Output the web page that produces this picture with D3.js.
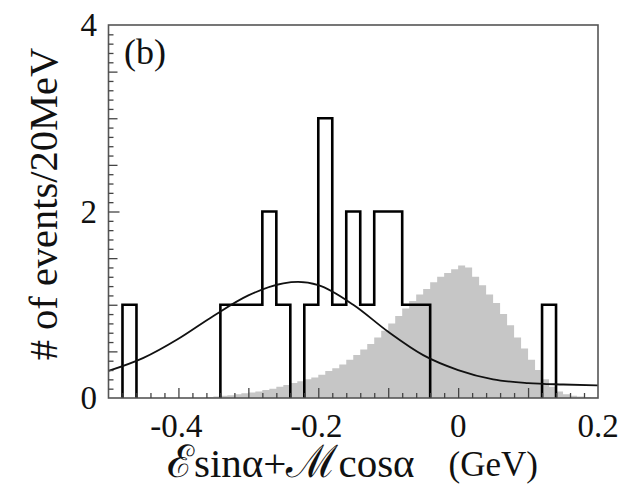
<!DOCTYPE html>
<html>
<head>
<meta charset="utf-8">
<script src="https://cdn.jsdelivr.net/npm/d3@7"></script>
<style>
  html, body { margin: 0; padding: 0; background: #fff; }
  svg { display: block; }
  text { font-family: "Liberation Serif", "Times New Roman", serif; fill: #111; }
</style>
</head>
<body>
<svg id="chart" width="634" height="487"></svg>
<script>
// Data histogram: 20 MeV bins from -0.50 to 0.20 GeV (event counts)
const dataBinStart = -0.5;
const dataBinWidth = 0.02;
const dataCounts = [0, 1, 0, 0, 0, 0, 0, 0, 1, 1, 1, 2, 1, 0, 1, 3, 1, 2, 1, 2, 2, 1, 1,
                    0, 0, 0, 0, 0, 0, 0, 0, 1, 0, 0, 0];

// Signal MC shape: 10 MeV bins from -0.50 to 0.20 GeV
const mcBinStart = -0.5;
const mcBinWidth = 0.01;
const mcValues = [0, 0, 0, 0, 0, 0, 0, 0, 0, 0, 0, 0, 0, 0, 0.01, 0.015,
                  0.025, 0.03, 0.04, 0.05, 0.06, 0.07, 0.085, 0.10, 0.12, 0.14,
                  0.16, 0.18, 0.20, 0.22, 0.25, 0.29, 0.32, 0.36, 0.41, 0.46,
                  0.52, 0.58, 0.65, 0.72, 0.80, 0.88, 0.96, 1.04, 1.11, 1.17,
                  1.24, 1.30, 1.34, 1.38, 1.42, 1.40, 1.30, 1.21, 1.11, 1.02,
                  0.90, 0.78, 0.65, 0.53, 0.41, 0.30, 0.20, 0.12, 0.07, 0.04,
                  0.025, 0.015, 0.01, 0.005];

// Fit curve sampled along x
const fitX = [-0.50, -0.45, -0.40, -0.35, -0.30, -0.25, -0.229, -0.20, -0.15, -0.10, -0.05, 0.00, 0.05, 0.10, 0.15, 0.20];
const fitY = [0.29, 0.43, 0.635, 0.88, 1.10, 1.23, 1.245, 1.21, 1.00, 0.71, 0.46, 0.30, 0.20, 0.16, 0.145, 0.136];

// Axis labels
const xTickLabels = [-0.4, -0.2, 0, 0.2];
const yTickLabels = [0, 2, 4];
const xTitleParts = [["ℰ", 45], ["sinα+", 41], ["ℳ", 45], ["cosα", 41]];
const xTitleUnit = "(GeV)";
const yTitle = "# of events/20MeV";
const panelLabel = "(b)";

const svg = d3.select("#chart");
const plotLeft = 108.5, plotRight = 598, plotTop = 25, plotBottom = 398;

const x = d3.scaleLinear().domain([-0.5, 0.2]).range([plotLeft, plotRight]);
const y = d3.scaleLinear().domain([0, 4]).range([plotBottom, plotTop]);

// MC filled histogram
const mcPts = [[x(mcBinStart), y(0)]];
mcValues.forEach((v, i) => {
  const x0 = mcBinStart + i * mcBinWidth, x1 = x0 + mcBinWidth;
  mcPts.push([x(x0), y(v)], [x(x1), y(v)]);
});
mcPts.push([x(mcBinStart + mcValues.length * mcBinWidth), y(0)]);
svg.append("path")
  .attr("d", d3.line()(mcPts) + "Z")
  .attr("fill", "#c6c6c6")
  .attr("stroke", "none");

// Data histogram outline, drawn as runs of non-empty bins
const runs = [];
let cur = null;
dataCounts.forEach((c, i) => {
  if (c > 0) {
    if (!cur) { cur = []; runs.push(cur); }
    cur.push(i);
  } else cur = null;
});
runs.forEach(run => {
  const pts = [];
  const first = dataBinStart + run[0] * dataBinWidth;
  pts.push([x(first), y(0)]);
  run.forEach(i => {
    const x0 = dataBinStart + i * dataBinWidth, x1 = x0 + dataBinWidth;
    pts.push([x(x0), y(dataCounts[i])], [x(x1), y(dataCounts[i])]);
  });
  const last = dataBinStart + (run[run.length - 1] + 1) * dataBinWidth;
  pts.push([x(last), y(0)]);
  svg.append("path")
    .attr("d", d3.line()(pts))
    .attr("fill", "none")
    .attr("stroke", "#000")
    .attr("stroke-width", 2.6)
    .attr("stroke-linejoin", "miter");
});

// Fit curve
svg.append("path")
  .attr("d", d3.line().curve(d3.curveMonotoneX)
    .x((d, i) => x(fitX[i])).y(d => y(d))(fitY))
  .attr("fill", "none")
  .attr("stroke", "#111")
  .attr("stroke-width", 1.8);

// Frame
svg.append("rect")
  .attr("x", plotLeft).attr("y", plotTop)
  .attr("width", plotRight - plotLeft).attr("height", plotBottom - plotTop)
  .attr("fill", "none").attr("stroke", "#555").attr("stroke-width", 1.6);

// Inward ticks: x axis (0.1 major, 0.02 minor)
const xAxis = d3.axisBottom(x)
  .tickValues(d3.range(-25, 11).map(k => k * 0.02).filter(v => v > -0.5 + 1e-9 && v < 0.2 - 1e-9))
  .tickSizeInner(-5).tickSizeOuter(0).tickFormat("");
const gx = svg.append("g").attr("transform", `translate(0,${plotBottom})`).call(xAxis);
gx.select(".domain").remove();
gx.selectAll(".tick line")
  .attr("y2", d => (Math.abs(Math.round(d * 10) - d * 10) < 1e-6) ? -10 : -5)
  .attr("stroke", "#444").attr("stroke-width", 1.3);

// Inward ticks: y axis (0.5 major, 0.1 minor)
const yAxis = d3.axisLeft(y)
  .tickValues(d3.range(1, 40).map(k => k * 0.1))
  .tickSizeInner(-5).tickSizeOuter(0).tickFormat("");
const gy = svg.append("g").attr("transform", `translate(${plotLeft},0)`).call(yAxis);
gy.select(".domain").remove();
gy.selectAll(".tick line")
  .attr("x2", d => (Math.abs(Math.round(d * 2) - d * 2) < 1e-6) ? (Math.abs(Math.round(d / 2) - d / 2) < 1e-6 ? 11 : 9) : 5)
  .attr("stroke", "#444").attr("stroke-width", 1.3);

// Tick labels
svg.selectAll(".xlab").data(xTickLabels).enter().append("text")
  .attr("class", "xlab")
  .attr("x", d => x(d) + (d < 0 ? -2 : 0)).attr("y", 437)
  .attr("text-anchor", "middle")
  .attr("font-size", 33)
  .text(d => d === 0 ? "0" : (d < 0 ? "-" : "") + Math.abs(d).toString());

svg.selectAll(".ylab").data(yTickLabels).enter().append("text")
  .attr("class", "ylab")
  .attr("x", 97).attr("y", d => y(d) + 11)
  .attr("text-anchor", "end")
  .attr("font-size", 33)
  .text(d => d);

// X axis title: expression on the left, unit anchored on the right
const xt = svg.append("text")
  .attr("x", 167).attr("y", 477);
xTitleParts.forEach(([p, fs]) => xt.append("tspan").attr("font-size", fs).text(p));

svg.append("text")
  .attr("x", 538).attr("y", 476)
  .attr("text-anchor", "end")
  .attr("font-size", 35)
  .text(xTitleUnit);

// Y axis title
svg.append("text")
  .attr("transform", "translate(57,204) rotate(-90)")
  .attr("text-anchor", "middle")
  .attr("font-size", 40.5)
  .text(yTitle);

// Panel label
svg.append("text")
  .attr("x", 124).attr("y", 64)
  .attr("font-size", 36)
  .text(panelLabel);
</script>
</body>
</html>
